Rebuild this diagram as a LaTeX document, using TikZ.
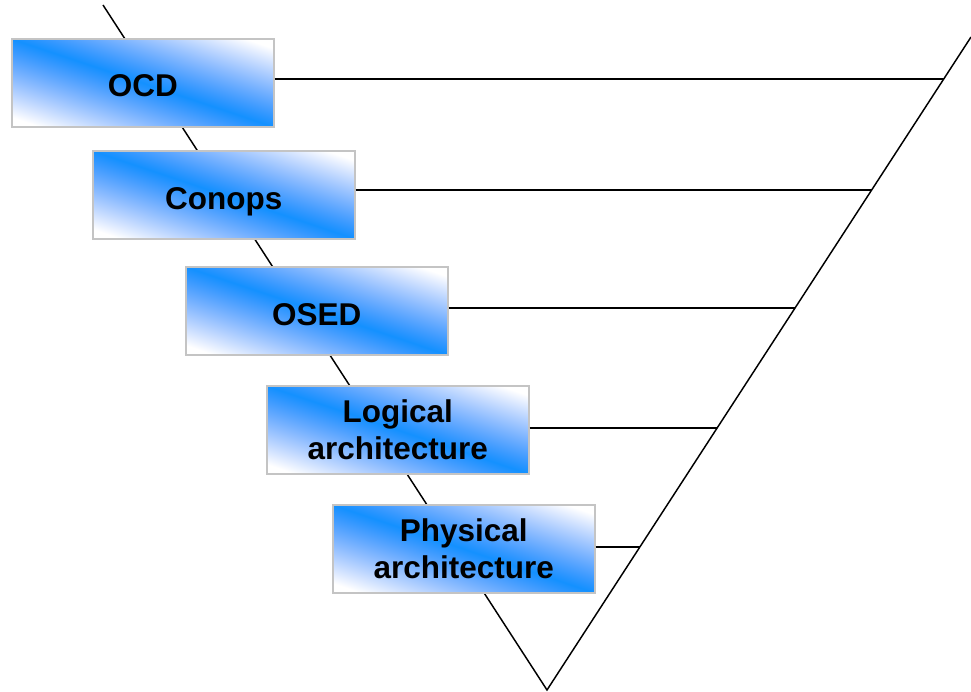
\documentclass[tikz,border=0pt]{standalone}
\usepackage{fontspec}
\setmainfont{Liberation Sans}
\definecolor{boxgray}{RGB}{196,196,196}
% Diagonal band: saturated blue along the box diagonal from the top-left to
% the bottom-right corner, fading to white towards the other two corners.
% The box maps onto the central 50bp square of the shading.
\pgfdeclarefunctionalshading{stageband}{\pgfpoint{0bp}{0bp}}{\pgfpoint{100bp}{100bp}}{}{
  add 100 sub abs 50 div 1.12 mul
  dup 1 gt {pop 1} if
  dup 0.922 mul 0.078 add
  exch
  1.4 exp 0.431 mul 0.569 add
  1
}
\begin{document}
\begin{tikzpicture}[x=0.75pt,y=-0.75pt,
  stage/.style={draw=boxgray, line width=1.2pt, shading=stageband,
    minimum width=196.5pt, minimum height=66pt, inner sep=0pt, align=center,
    anchor=north west, font=\bfseries\fontsize{23.6}{28.3}\selectfont},
  oneline/.style={text height=21.3pt, text depth=0pt},
  firstline/.style={execute at begin node={\rule{0pt}{#1}}},
  leg/.style={line width=1.1pt, black},
  rung/.style={line width=1.1pt, black}]
\useasboundingbox (0,0) rectangle (971,692);

% the V: left leg, vertex, right leg
\coordinate (ltop) at (103,5);
\coordinate (vtx) at (547,690);
\coordinate (rtop) at (971,37);
\draw[leg] (ltop) -- (vtx) -- (rtop);

% points where the rungs meet the right leg
\coordinate (r1) at (943.7,79);
\coordinate (r2) at (871.7,190);
\coordinate (r3) at (795.0,308);
\coordinate (r4) at (717.0,428);
\coordinate (r5) at (640.0,547);

% stages
\node[stage, oneline] (ocd)  at (11,38)  {OCD};
\node[stage, oneline] (conops) at (92,150) {Conops};
\node[stage, oneline] (osed) at (185,266) {OSED};
\node[stage, firstline=23.4pt] (logarch) at (266,385) {Logical\\architecture};
\node[stage, firstline=18.5pt] (physarch) at (332,504) {Physical\\architecture};

% rungs from each stage to the right leg
\draw[rung] (ocd.east |- r1) -- (r1);
\draw[rung] (conops.east |- r2) -- (r2);
\draw[rung] (osed.east |- r3) -- (r3);
\draw[rung] (logarch.east |- r4) -- (r4);
\draw[rung] (physarch.east |- r5) -- (r5);
\end{tikzpicture}
\end{document}
